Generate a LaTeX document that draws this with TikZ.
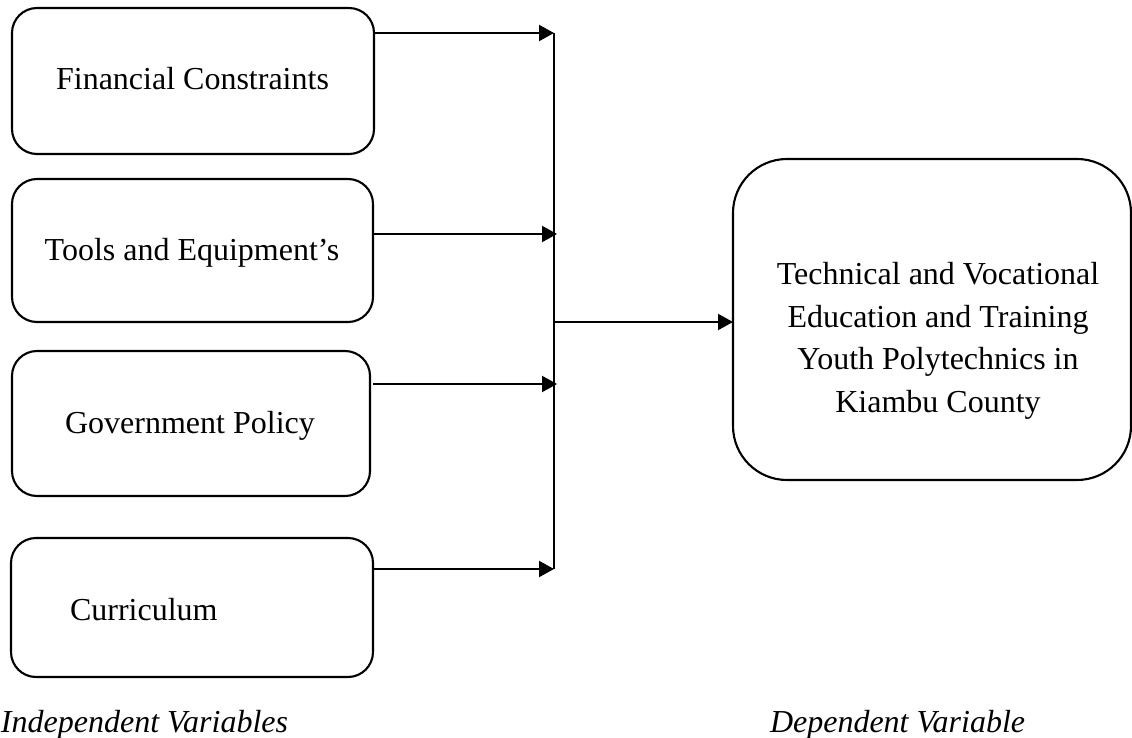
\documentclass[tikz,border=0pt]{standalone}
\usepackage{fontspec}
\setmainfont{Liberation Serif}
\usetikzlibrary{arrows.meta}
\begin{document}
\begin{tikzpicture}[x=1pt,y=-1pt,
  box/.style={draw, line width=2.1pt, rounded corners=25pt, inner sep=0pt, outer sep=0pt},
  txt/.style={inner sep=0pt, outer sep=0pt, font=\fontsize{32}{42.5}\selectfont},
  conn/.style={line width=2.1pt},
  arr/.style={line width=2.1pt, -{Triangle[length=15pt,width=16pt]}}]
\useasboundingbox (0,0) rectangle (1132,738);
% independent variable boxes
\node[box, minimum width=362pt, minimum height=146pt] (b1) at (193,81) {};
\node[box, minimum width=361pt, minimum height=143pt] (b2) at (192.5,250.5) {};
\node[box, minimum width=358pt, minimum height=145pt] (b3) at (191,423.5) {};
\node[box, minimum width=362pt, minimum height=139pt] (b4) at (192,607.5) {};
% dependent variable box
\node[box, rounded corners=54pt, minimum width=398pt, minimum height=321pt] (R) at (932,319.5) {};
% texts
\node[txt, anchor=base] (t1) at (192.5,90) {Financial Constraints};
\node[txt, anchor=base] (t2) at (192,260) {Tools and Equipment’s};
\node[txt, anchor=base] (t3) at (190,433) {Government Policy};
\node[txt, anchor=base west] (t4) at (70,620) {Curriculum};
\node[txt, align=center] (tR) at (938,341) {Technical and Vocational\\Education and Training\\Youth Polytechnics in\\Kiambu County};
\node[txt, anchor=base west, font=\fontsize{32}{42.5}\selectfont\itshape] (li) at (1,732) {Independent Variables};
\node[txt, anchor=base west, font=\fontsize{32}{42.5}\selectfont\itshape] (ld) at (770,732) {Dependent Variable};
% junction coordinates
\coordinate (j1) at (554,33);
\coordinate (j2) at (557,234);
\coordinate (j3) at (557,384);
\coordinate (j4) at (554,569);
\coordinate (jm) at (554,322);
% connectors
\draw[arr] (b1.east |- j1) -- (j1);
\draw[arr] (b2.east |- j2) -- (j2);
\draw[arr] ([xshift=3pt]b3.east |- j3) -- (j3);
\draw[arr] (b4.east |- j4) -- (j4);
\draw[conn] (j1) -- (j4);
\draw[arr] (jm) -- (R.west |- jm);
\end{tikzpicture}
\end{document}
